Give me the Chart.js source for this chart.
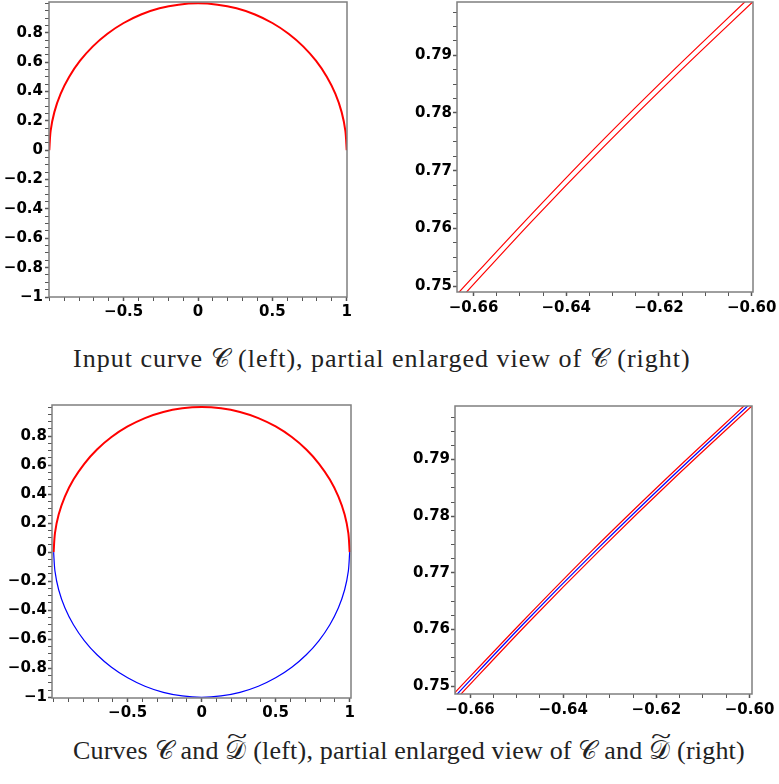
<!DOCTYPE html>
<html>
<head>
<meta charset="utf-8">
<script src="https://cdn.jsdelivr.net/npm/chart.js@4.4.0/dist/chart.umd.min.js"></script>
<style>
  body { margin: 0; background: #fff; }
  #page { position: relative; width: 779px; height: 784px; overflow: hidden; }
  canvas { position: absolute; }
  .caption { position: absolute; left: 73px; font-family: "Liberation Serif", serif; font-size: 26px; letter-spacing: 1px; color: #222; white-space: nowrap; }
  .til { position: relative; display: inline-block; }
  .til span { position: absolute; left: 2px; top: -13px; transform: scaleX(1.7); transform-origin: left; font-size: 22px; }
</style>
</head>
<body>
<div id="page">
  <canvas id="tl" width="360" height="322" style="left:0;top:0"></canvas>
  <canvas id="tr" width="389" height="322" style="left:390px;top:0"></canvas>
  <canvas id="bl" width="360" height="322" style="left:0;top:400px"></canvas>
  <canvas id="br" width="389" height="322" style="left:390px;top:400px"></canvas>
  <div class="caption" style="top:344px">Input curve 𝒞 (left), partial enlarged view of 𝒞 (right)</div>
  <div class="caption" style="top:736px;letter-spacing:0.2px">Curves 𝒞 and <span class="til">𝒟<span>~</span></span> (left), partial enlarged view of 𝒞 and <span class="til">𝒟<span>~</span></span> (right)</div>
</div>
<script>
// curve C (upper half, red)
var upperX = [1, 0.991, 0.966, 0.924, 0.866, 0.793, 0.707, 0.609, 0.5, 0.383, 0.259, 0.131, 0,
  -0.131, -0.259, -0.383, -0.5, -0.609, -0.707, -0.793, -0.866, -0.924, -0.966, -0.991, -1];
var upperY = [0, 0.131, 0.259, 0.383, 0.5, 0.609, 0.707, 0.793, 0.866, 0.924, 0.966, 0.991, 1,
  0.991, 0.966, 0.924, 0.866, 0.793, 0.707, 0.609, 0.5, 0.383, 0.259, 0.131, 0];

// curve D~ (lower half, blue)
var lowerX = [-1, -0.991, -0.966, -0.924, -0.866, -0.793, -0.707, -0.609, -0.5, -0.383, -0.259, -0.131, 0,
  0.131, 0.259, 0.383, 0.5, 0.609, 0.707, 0.793, 0.866, 0.924, 0.966, 0.991, 1];
var lowerY = [0, -0.131, -0.259, -0.383, -0.5, -0.609, -0.707, -0.793, -0.866, -0.924, -0.966, -0.991, -1,
  -0.991, -0.966, -0.924, -0.866, -0.793, -0.707, -0.609, -0.5, -0.383, -0.259, -0.131, 0];

// enlarged view: two red bounds of C and the blue D~ between them
var zoomY      = [0.748, 0.761, 0.774, 0.787, 0.800];
var zoomOuterX = [-0.6642, -0.6492, -0.6337, -0.6174, -0.6005];
var zoomInnerX = [-0.6626, -0.6477, -0.6321, -0.6158, -0.5988];
var zoomMidX   = [-0.6634, -0.6485, -0.6329, -0.6166, -0.5997];

// tick labels
var fullXTicks = [-0.5, 0, 0.5, 1];
var fullXLabels = ['\u22120.5', '0', '0.5', '1'];
var fullYTicks = [-1, -0.8, -0.6, -0.4, -0.2, 0, 0.2, 0.4, 0.6, 0.8];
var fullYLabels = ['\u22121', '\u22120.8', '\u22120.6', '\u22120.4', '\u22120.2', '0', '0.2', '0.4', '0.6', '0.8'];
var zoomXTicks = [-0.66, -0.64, -0.62, -0.60];
var zoomXLabels = ['\u22120.66', '\u22120.64', '\u22120.62', '\u22120.60'];
var zoomYTicks = [0.75, 0.76, 0.77, 0.78, 0.79];
var zoomYLabels = ['0.75', '0.76', '0.77', '0.78', '0.79'];

function pts(xs, ys) {
  return xs.map(function(x, i) { return {x: x, y: ys[i]}; });
}

function steps(min, max, step) {
  var out = [];
  for (var k = Math.ceil(min / step - 1e-6); k * step <= max + 1e-9; k++) {
    out.push(Math.round(k * step * 1e6) / 1e6);
  }
  return out;
}

function axis(pos, min, max, minor, majors, labels, size, pad) {
  var isMajor = function(v) {
    return majors.findIndex(function(m) { return Math.abs(m - v) < 1e-7; });
  };
  return {
    type: 'linear',
    position: pos,
    min: min,
    max: max,
    afterBuildTicks: function(a) {
      a.ticks = steps(min, max, minor).map(function(v) { return {value: v}; });
    },
    afterFit: function(a) {
      if (pos === 'left') a.width = size; else a.height = size;
      a.paddingTop = a.paddingBottom = a.paddingLeft = a.paddingRight = 0;
    },
    ticks: {
      autoSkip: false,
      maxRotation: 0,
      padding: pad,
      color: '#000',
      font: {family: 'DejaVu Sans', size: 15, weight: 'bold'},
      callback: function(v) {
        var i = isMajor(v);
        return i < 0 ? '' : labels[i];
      }
    },
    grid: {
      drawOnChartArea: false,
      drawTicks: true,
      tickLength: 4,
      tickColor: '#555',
      tickWidth: function(ctx) { return ctx.tick && isMajor(ctx.tick.value) >= 0 ? 1.5 : 1; }
    },
    border: {display: false}
  };
}

var frame = {
  id: 'frame',
  afterDatasetsDraw: function(chart) {
    var ctx = chart.ctx, a = chart.chartArea;
    ctx.save();
    ctx.strokeStyle = '#7f7f7f';
    ctx.lineWidth = 1.5;
    ctx.strokeRect(a.left, a.top, a.right - a.left, a.bottom - a.top);
    ctx.restore();
  }
};

function line(data, color, width) {
  return {data: data, borderColor: color, backgroundColor: color, borderWidth: width,
    showLine: true, pointRadius: 0, fill: false, tension: 0.3};
}

function makeChart(id, datasets, xAxis, yAxis, padding) {
  return new Chart(document.getElementById(id), {
    type: 'scatter',
    data: {datasets: datasets},
    options: {
      responsive: false,
      animation: false,
      events: [],
      layout: {padding: padding},
      plugins: {legend: {display: false}, tooltip: {enabled: false}},
      scales: {x: xAxis, y: yAxis}
    },
    plugins: [frame]
  });
}

// top left: input curve
makeChart('tl',
  [line(pts(upperX, upperY), '#ff0000', 2)],
  axis('bottom', -1.002, 1.002, 0.1, fullXTicks, fullXLabels, 25, 2),
  axis('left', -1.0, 1.009, 0.05, fullYTicks, fullYLabels, 49, 2),
  {top: 2, right: 13, left: 0, bottom: 0});

// top right: enlarged view of C
makeChart('tr',
  [line(pts(zoomOuterX, zoomY), '#ff0000', 1.2), line(pts(zoomInnerX, zoomY), '#ff0000', 1.2)],
  axis('bottom', -0.66357, -0.59972, 0.005, zoomXTicks, zoomXLabels, 30, 3),
  axis('left', 0.74896, 0.79924, 0.0025, zoomYTicks, zoomYLabels, 67, 1),
  {top: 2, right: 26, left: 0, bottom: 0});

// bottom left: C and D~
makeChart('bl',
  [line(pts(lowerX, lowerY), '#0000ff', 1.2), line(pts(upperX, upperY), '#ff0000', 2)],
  axis('bottom', -1.011, 1.009, 0.1, fullXTicks, fullXLabels, 24, 2),
  axis('left', -1.005, 1.014, 0.05, fullYTicks, fullYLabels, 52, 1),
  {top: 5, right: 9, left: 0, bottom: 0});

// bottom right: enlarged view of C and D~
makeChart('br',
  [line(pts(zoomOuterX, zoomY), '#ff0000', 1.2), line(pts(zoomInnerX, zoomY), '#ff0000', 1.2),
   line(pts(zoomMidX, zoomY), '#0000ff', 1.2)],
  axis('bottom', -0.66322, -0.59948, 0.005, zoomXTicks, zoomXLabels, 28, 3),
  axis('left', 0.74859, 0.79946, 0.0025, zoomYTicks, zoomYLabels, 65, 1),
  {top: 6, right: 27, left: 0, bottom: 0});
</script>
</body>
</html>
